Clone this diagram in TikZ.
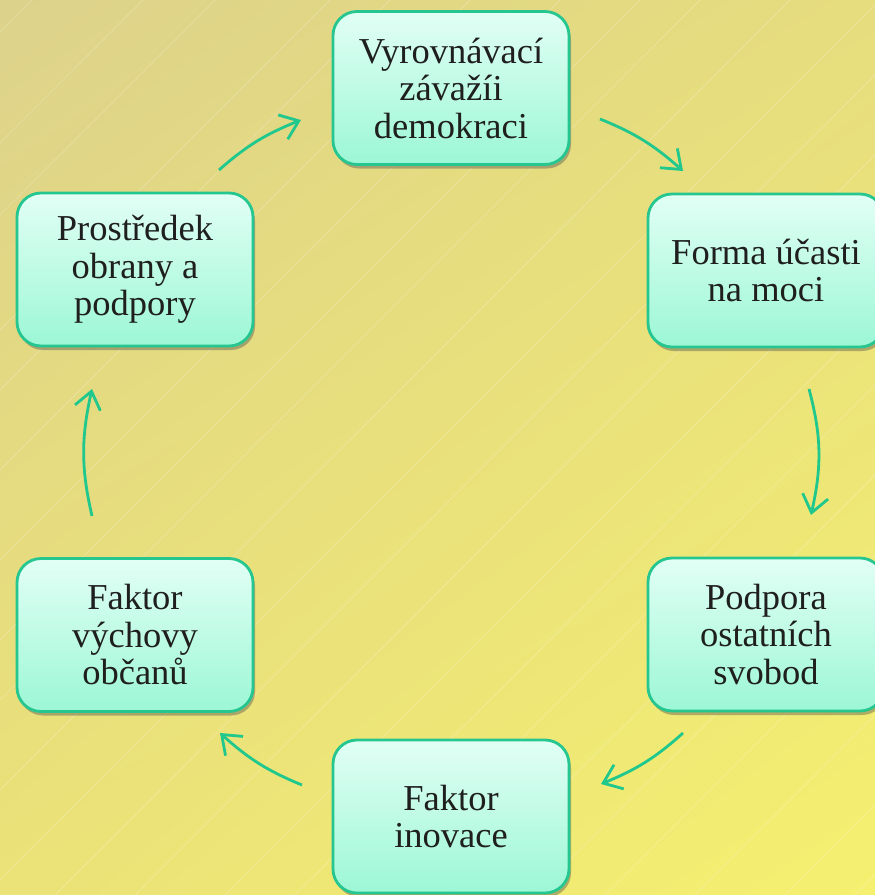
\documentclass[tikz,border=0pt]{standalone}
\usepackage{fontspec}
\setmainfont{Liberation Serif}
\usetikzlibrary{arrows.meta,shadows,bending,shadings}
\definecolor{bgUL}{HTML}{DDD28B}
\definecolor{bgUR}{HTML}{E6DD7E}
\definecolor{bgLL}{HTML}{EBE278}
\definecolor{bgLR}{HTML}{F5F070}
\definecolor{boxline}{HTML}{26C690}
\definecolor{boxtop}{HTML}{E2FFF5}
\definecolor{boxbot}{HTML}{9CF7D6}
\definecolor{arrowc}{HTML}{20C88D}
\begin{document}
\begin{tikzpicture}[x=1pt,y=-1pt,
  card/.style={draw=boxline, line width=2.8pt, rounded corners=24pt,
    top color=boxtop, bottom color=boxbot,
    minimum width=236pt, minimum height=153pt, inner sep=0pt,
    align=center, font=\fontsize{36.5}{37.5}\selectfont, text=black!88,
    drop shadow={shadow xshift=2pt, shadow yshift=-4pt, opacity=0.4, fill=black!70}},
  flow/.style={draw=arrowc, line width=2.8pt,
    -{Straight Barb[length=17pt,width=26pt]}},
  stripe/.style={draw=white, opacity=0.28, line width=0.6pt}
]
\useasboundingbox (0,0) rectangle (875,895);
\clip (0,0) rectangle (875,895);
% background
\shade[upper left=bgUL, upper right=bgUR, lower left=bgLL, lower right=bgLR]
  (0,0) rectangle (875,895);
\foreach \c in {32,143,215,330,390,470,560,640,700,790,880,950,1030,1120,1190,1260,1350,1430,1500,1590,1680,1750}
  \draw[stripe] (\c,0) -- (\c-895,895);

% boxes
\node[card] (n1) at (451,88)    {Vyrovnávací\\závažíi\\demokraci};
\node[card] (n2) at (766,270.5) {Forma účasti\\na moci};
\node[card] (n3) at (766,634.5) {Podpora\\ostatních\\svobod};
\node[card] (n4) at (451,816.5) {Faktor\\inovace};
\node[card] (n5) at (135,635)   {Faktor\\výchovy\\občanů};
\node[card] (n6) at (135,269.5) {Prostředek\\obrany a\\podpory};

% arrow end points
\coordinate (a1s) at (219,170); \coordinate (a1e) at (301,120);
\coordinate (a2s) at (600,119); \coordinate (a2e) at (683,171);
\coordinate (a3s) at (809,389); \coordinate (a3e) at (811,515);
\coordinate (a4s) at (683,733); \coordinate (a4e) at (601,784);
\coordinate (a5s) at (302,785); \coordinate (a5e) at (220,733);
\coordinate (a6s) at (92,516);  \coordinate (a6e) at (92,389);

\draw[flow] (a1s) to[bend left=10] (a1e);
\draw[flow] (a2s) to[bend left=10] (a2e);
\draw[flow] (a3s) to[bend left=14] (a3e);
\draw[flow] (a4s) to[bend left=10] (a4e);
\draw[flow] (a5s) to[bend left=10] (a5e);
\draw[flow] (a6s) to[bend left=13] (a6e);
\end{tikzpicture}
\end{document}
